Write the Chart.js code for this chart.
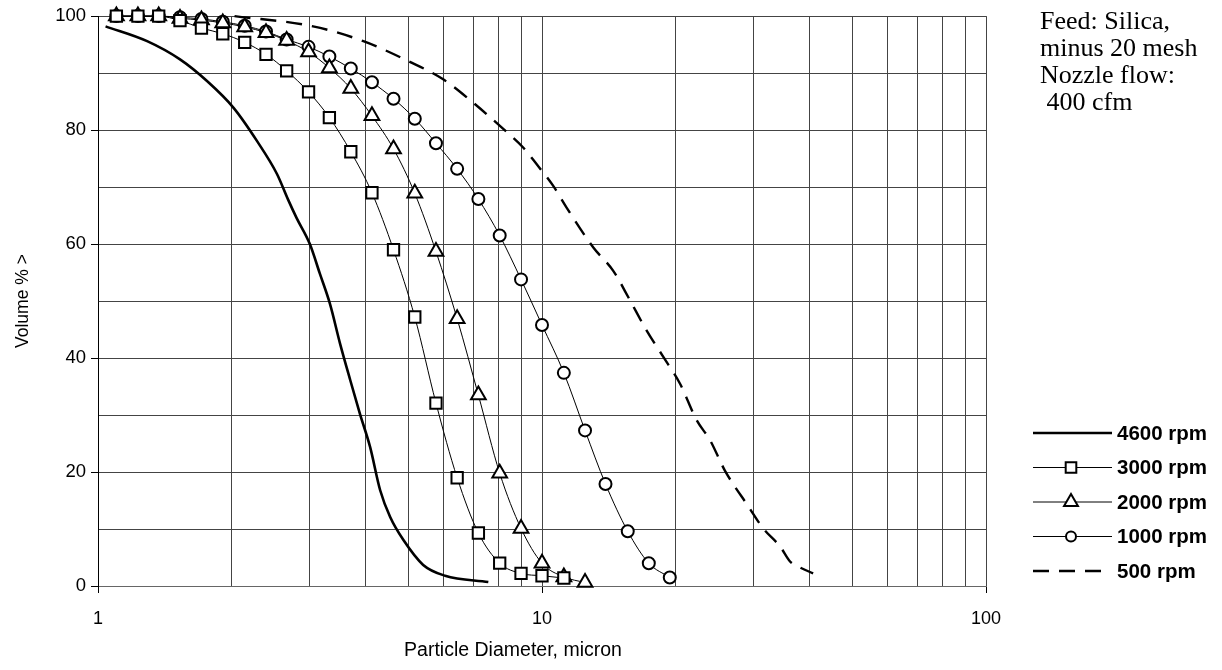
<!DOCTYPE html>
<html>
<head>
<meta charset="utf-8">
<script src="https://cdn.jsdelivr.net/npm/chart.js@4.4.0/dist/chart.umd.min.js"></script>
<style>
  html, body { margin: 0; padding: 0; background: #ffffff; }
  #wrap { width: 1222px; height: 670px; }
</style>
</head>
<body>
<div id="wrap"><canvas id="c" width="1222" height="670"></canvas></div>
<script>
// ---- data ----
const xTickValues = [1,2,3,4,5,6,7,8,9,10,20,30,40,50,60,70,80,90,100];
const xTickLabels = [1, 10, 100];
const yTickLabels = [0, 20, 40, 60, 80, 100];

// sieve sizes (micron) shared by the marker series
const sizes = [1.10,1.23,1.37,1.53,1.71,1.91,2.14,2.39,2.66,2.98,3.32,3.71,4.14,4.63,5.17,5.77,6.44,7.19,8.03,8.97,10.0,11.2,12.5,13.9,15.6,17.4,19.4];

const rpm3000 = [100,100,100,99.2,97.9,96.9,95.4,93.3,90.4,86.7,82.2,76.2,69.0,59.0,47.2,32.1,19.0,9.3,4.0,2.2,1.8,1.4];
const rpm2000 = [100,100,100,99.6,99.3,98.8,98.1,97.1,95.7,93.7,90.9,87.3,82.5,76.7,68.9,58.7,46.9,33.5,19.8,10.1,4.0,1.6,0.6];
const rpm1000 = [100,100,100,99.8,99.5,99.0,98.3,97.3,95.9,94.6,92.9,90.8,88.4,85.5,82.0,77.7,73.2,67.9,61.5,53.8,45.8,37.4,27.3,17.9,9.6,4.0,1.5];

const x4600 = [1.04,1.29,1.53,1.76,2.02,2.28,2.53,2.68,2.80,3.00,3.16,3.33,3.51,3.70,3.89,4.10,4.32,4.55,4.87,5.40,6.05,7.57];
const rpm4600 = [98.2,95.6,92.4,88.6,83.9,78.1,72.3,67.8,64.6,60.0,54.8,49.5,42.5,36.1,30.2,24.4,16.8,12.1,8.1,3.7,1.8,0.7];

const x500 = [2.03,3.05,3.96,5.0,5.99,7.0,8.18,9.08,9.73,10.6,11.36,13.05,14.47,15.79,17.21,18.76,20.46,22.3,23.9,25.8,29.2,31.5,34.4,36.2,37.8,40.8];
const rpm500 = [100,98.2,95.6,92.1,88.9,84.8,80.2,76.9,74.0,70.2,66.4,59.4,55.3,50.1,44.8,40.2,35.5,29.1,25.6,20.3,13.9,10.1,6.9,4.3,3.4,2.2];

const seriesNames = ['4600 rpm','3000 rpm','2000 rpm','1000 rpm','500 rpm'];
const noteLines = ['Feed: Silica,', 'minus 20 mesh', 'Nozzle flow:', ' 400 cfm'];
const xTitle = 'Particle Diameter, micron';
const yTitle = 'Volume % >';

function pairs(xs, ys) { return ys.map((y, i) => ({ x: xs[i], y: y })); }

const SANS = '"Liberation Sans", Arial, sans-serif';
const SERIF = '"Liberation Serif", "Times New Roman", serif';

const markerCommon = {
  borderColor: '#000', borderWidth: 1,
  pointBackgroundColor: '#fff', pointBorderColor: '#000', pointBorderWidth: 2,
  cubicInterpolationMode: 'monotone', clip: false
};

const datasets = [
  { label: seriesNames[0], data: pairs(x4600, rpm4600), borderColor: '#000', borderWidth: 2.6,
    pointRadius: 0, cubicInterpolationMode: 'monotone', clip: false },
  Object.assign({ label: seriesNames[1], data: pairs(sizes, rpm3000), pointStyle: 'rect', pointRadius: 8 }, markerCommon),
  Object.assign({ label: seriesNames[2], data: pairs(sizes, rpm2000), pointStyle: 'triangle', pointRadius: 8.5 }, markerCommon),
  Object.assign({ label: seriesNames[3], data: pairs(sizes, rpm1000), pointStyle: 'circle', pointRadius: 6 }, markerCommon),
  { label: seriesNames[4], data: pairs(x500, rpm500), borderColor: '#000', borderWidth: 2.4, borderDash: [16, 10],
    pointRadius: 0, cubicInterpolationMode: 'monotone', clip: false }
];

// legend + notes + x title drawn as text on the canvas
const decorPlugin = {
  id: 'decor',
  afterDraw(chart) {
    const ctx = chart.ctx;
    ctx.save();
    // note box text
    ctx.fillStyle = '#000';
    ctx.font = '26px ' + SERIF;
    ctx.textBaseline = 'middle';
    ctx.textAlign = 'left';
    noteLines.forEach((t, i) => ctx.fillText(t, 1040, 22 + i * 27));

    // x axis title
    ctx.font = '19.5px ' + SANS;
    ctx.textAlign = 'center';
    ctx.fillText(xTitle, 513, 651);

    // legend
    const rowsY = [433, 467.5, 502, 536.5, 571];
    const x0 = 1033, x1 = 1112, mx = 1071;
    chart.data.datasets.forEach((ds, i) => {
      const y = rowsY[i];
      ctx.save();
      ctx.strokeStyle = '#000';
      ctx.lineWidth = ds.borderWidth;
      ctx.setLineDash(ds.borderDash || []);
      ctx.beginPath();
      ctx.moveTo(x0, y);
      ctx.lineTo(ds.borderDash ? 1104 : x1, y);
      ctx.stroke();
      ctx.setLineDash([]);
      if (ds.pointRadius > 0) {
        ctx.fillStyle = '#fff';
        ctx.strokeStyle = '#000';
        ctx.lineWidth = 2;
        const r = ds.pointStyle === 'circle' ? 5 : (ds.pointStyle === 'rect' ? 7.5 : 8);
        Chart.helpers.drawPoint(ctx, { pointStyle: ds.pointStyle, radius: r, rotation: 0, borderWidth: 2 }, mx, y);
      }
      ctx.restore();
      ctx.fillStyle = '#000';
      ctx.font = 'bold 20.5px ' + SANS;
      ctx.textAlign = 'left';
      ctx.textBaseline = 'middle';
      ctx.fillText(ds.label, 1117, y + 1);
    });
    ctx.restore();
  }
};

new Chart(document.getElementById('c'), {
  type: 'line',
  data: { datasets },
  plugins: [decorPlugin],
  options: {
    responsive: false,
    animation: false,
    events: [],
    layout: { padding: { top: 12, right: 236, left: 0, bottom: 0 } },
    plugins: { legend: { display: false }, tooltip: { enabled: false } },
    scales: {
      x: {
        type: 'logarithmic', min: 1, max: 100,
        afterBuildTicks(scale) { scale.ticks = xTickValues.map(v => ({ value: v })); },
        afterFit(scale) { scale.height = 84; },
        grid: {
          color: '#444', lineWidth: 1, tickLength: 7,
          tickColor: c => xTickLabels.includes(c.tick && c.tick.value) ? '#000' : 'rgba(0,0,0,0)'
        },
        border: { display: true, color: '#666', width: 1 },
        ticks: {
          autoSkip: false, maxRotation: 0, color: '#000', padding: 15,
          font: { family: SANS, size: 18 },
          callback: v => xTickLabels.includes(v) ? String(v) : ''
        }
      },
      y: {
        type: 'linear', min: 0, max: 100,
        afterFit(scale) { scale.width = 98; },
        grid: {
          color: '#444', lineWidth: 1, tickLength: 7,
          tickColor: c => yTickLabels.includes(c.tick && c.tick.value) ? '#000' : 'rgba(0,0,0,0)'
        },
        border: { display: true, color: '#000', width: 1 },
        ticks: {
          stepSize: 10, color: '#000', padding: 5,
          font: { family: SANS, size: 18.5 },
          callback: v => yTickLabels.includes(v) ? String(v) : ''
        },
        title: {
          display: true, text: yTitle, color: '#000',
          font: { family: SANS, size: 17.5 }, padding: { top: 13, bottom: 0 }
        }
      }
    }
  }
});
</script>
</body>
</html>
